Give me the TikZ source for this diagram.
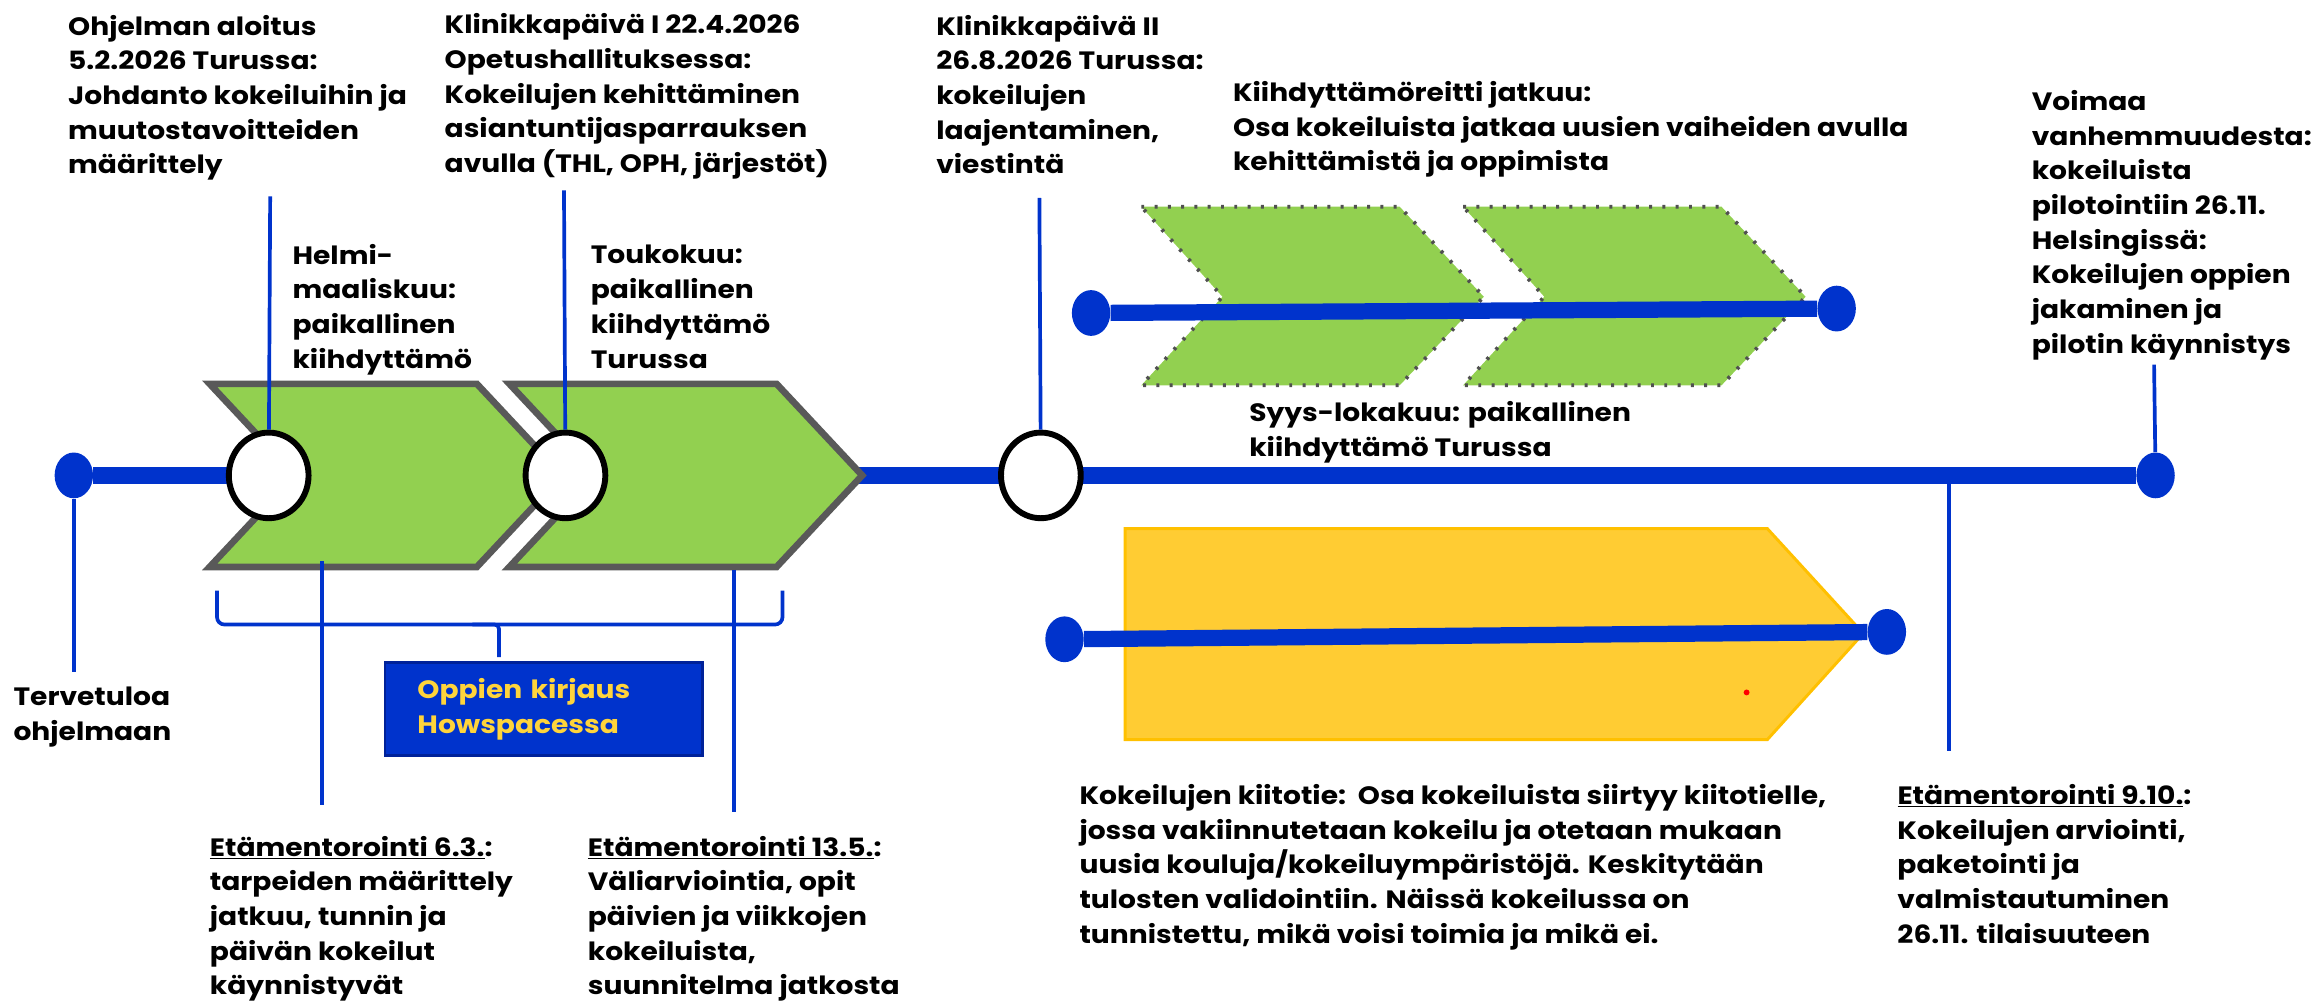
\documentclass[tikz,border=0pt]{standalone}
\usepackage{fontspec}
\setmainfont{Poppins}[FakeStretch=1.12]
\usetikzlibrary{shapes.geometric}

\definecolor{tlblue}{HTML}{0033CC}
\definecolor{tldark}{HTML}{002299}
\definecolor{tlgreen}{HTML}{92D050}
\definecolor{tlgrey}{HTML}{595959}
\definecolor{tlyellow}{HTML}{FFCC33}
\definecolor{tlorange}{HTML}{FFC000}
\definecolor{tlgold}{HTML}{FFD43B}

\tikzset{
  lbl/.style={anchor=north west, align=left, inner sep=0pt, font=\bfseries\fontsize{17}{23.5}\selectfont},
  ring/.style={ellipse, draw=black, line width=4pt, fill=white, minimum width=54pt, minimum height=58pt, inner sep=0pt},
  dot/.style={ellipse, fill=tlblue, minimum width=26pt, minimum height=31pt, inner sep=0pt},
  tick/.style={draw=tlblue, line width=2.5pt},
  axis/.style={draw=tlblue, line width=11pt},
  chev/.style={fill=tlgreen, draw=tlgrey, line width=4.5pt},
  chevdot/.style={fill=tlgreen, draw=tlgrey!90!black, line width=2.5pt, dash pattern=on 2pt off 7pt},
}

\begin{document}
\begin{tikzpicture}[x=1pt,y=-1pt]
\useasboundingbox (0,0) rectangle (1568,679);

% main time line
\node[dot] (start) at (50,322) {};
\node[dot] (finish) at (1460,322) {};
\draw[axis] (start) -- (finish);

% spring chevrons
\foreach \x in {142,345}
  \draw[chev] (\x,260) -- ++(181,0) -- ++(58,62) -- ++(-58,62) -- ++(-181,0) -- ++(58,-62) -- cycle;

% autumn chevrons, dotted
\foreach \x in {773,991}
  \draw[chevdot] (\x,140) -- ++(175,0) -- ++(57,61) -- ++(-57,60) -- ++(-175,0) -- ++(55,-60) -- cycle;
\node[dot] (routeA) at (739,212) {};
\node[dot] (routeB) at (1244,209) {};
\draw[axis] (routeA) -- (routeB);

% runway arrow
\draw[fill=tlyellow, draw=tlorange, line width=2pt] (762,358) -- (1197,358) -- (1262,429) -- (1197,501) -- (762,501) -- cycle;
\fill[red] (1183,469) circle (2);
\node[dot] (runA) at (721,433) {};
\node[dot] (runB) at (1278,428) {};
\draw[axis] (runA) -- (runB);

% milestones
\node[ring] (kick) at (182,322) {};
\node[ring] (clinicA) at (383,322) {};
\node[ring] (clinicB) at (705,322) {};

\coordinate (kickTop) at (183,133);
\coordinate (clinicATop) at (382,129);
\coordinate (clinicBTop) at (704,134);
\coordinate (welcomeEnd) at (50,455);
\coordinate (finishTop) at (1459,247);
\draw[tick] (kick) -- (kickTop);
\draw[tick] (clinicA) -- (clinicATop);
\draw[tick] (clinicB) -- (clinicBTop);
\draw[tick] (start) -- (welcomeEnd);
\draw[tick] (finish) -- (finishTop);

\coordinate (mentorAtop) at (218,380);
\coordinate (mentorAend) at (218,545);
\coordinate (mentorBtop) at (497,386);
\coordinate (mentorBend) at (497,550);
\coordinate (mentorCtop) at (1320,322);
\coordinate (mentorCend) at (1320,509);
\draw[tick] (mentorAtop) -- (mentorAend);
\draw[tick] (mentorBtop) -- (mentorBend);
\draw[tick] (mentorCtop) -- (mentorCend);

% lessons box and brace
\node[anchor=north west, fill=tlblue, draw=tldark, line width=1.5pt, minimum width=215pt, minimum height=63pt,
      inner xsep=22pt, text width=171pt, align=left, text=tlgold,
      font=\bfseries\fontsize{17}{23.5}\selectfont] (howspace) at (260,448) {Oppien kirjaus\\Howspacessa};
\coordinate (braceL) at (147,400);
\coordinate (braceR) at (530,400);
\coordinate (braceTip) at (338,445);
\draw[tlblue, line width=2.5pt, rounded corners=5pt] (braceL) -- (147,423) -- (530,423) -- (braceR);
\draw[tlblue, line width=2.5pt, rounded corners=3pt] (320,423) -- (338,423) -- (braceTip);

% texts
\node[lbl] (tStart) at (46,10) {Ohjelman aloitus\\5.2.2026 Turussa:\\Johdanto kokeiluihin ja\\muutostavoitteiden\\määrittely};
\node[lbl] (tClinicA) at (301,9) {Klinikkapäivä I 22.4.2026\\Opetushallituksessa:\\Kokeilujen kehittäminen\\asiantuntijasparrauksen\\avulla (THL, OPH, järjestöt)};
\node[lbl] (tClinicB) at (634,10) {Klinikkapäivä II\\26.8.2026 Turussa:\\kokeilujen\\laajentaminen,\\viestintä};
\node[lbl] (tRoute) at (835,55) {Kiihdyttämöreitti jatkuu:\\Osa kokeiluista jatkaa uusien vaiheiden avulla\\kehittämistä ja oppimista};
\node[lbl] (tFinish) at (1376,61) {Voimaa\\vanhemmuudesta:\\kokeiluista\\pilotointiin 26.11.\\Helsingissä:\\Kokeilujen oppien\\jakaminen ja\\pilotin käynnistys};
\node[lbl] (tSpring) at (198,165) {Helmi-\\maaliskuu:\\paikallinen\\kiihdyttämö};
\node[lbl] (tMay) at (400,166) {Toukokuu:\\paikallinen\\kiihdyttämö\\Turussa};
\node[lbl] (tAutumn) at (846,272) {Syys-lokakuu: paikallinen\\kiihdyttämö Turussa};
\node[lbl] (tWelcome) at (9,465) {Tervetuloa\\ohjelmaan};
\node[lbl] (tMentorA) at (142,566) {\underline{Etämentorointi 6.3.}:\\tarpeiden määrittely\\jatkuu, tunnin ja\\päivän kokeilut\\käynnistyvät};
\node[lbl] (tMentorB) at (398,566) {\underline{Etämentorointi 13.5.}:\\Väliarviointia, opit\\päivien ja viikkojen\\kokeiluista,\\suunnitelma jatkosta};
\node[lbl] (tRunway) at (731,531) {Kokeilujen kiitotie:\ \ Osa kokeiluista siirtyy kiitotielle,\\jossa vakiinnutetaan kokeilu ja otetaan mukaan\\uusia kouluja/kokeiluympäristöjä. Keskitytään\\tulosten validointiin. Näissä kokeilussa on\\tunnistettu, mikä voisi toimia ja mikä ei.};
\node[lbl] (tMentorC) at (1285,531) {\underline{Etämentorointi 9.10.}:\\Kokeilujen arviointi,\\paketointi ja\\valmistautuminen\\26.11. tilaisuuteen};

\end{tikzpicture}
\end{document}
